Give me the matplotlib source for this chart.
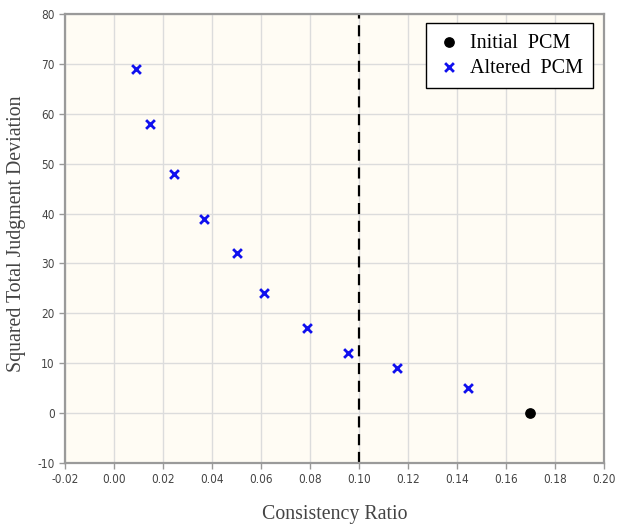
import matplotlib.pyplot as plt

# data
cr_altered = [0.0091, 0.0146, 0.0247, 0.0368, 0.0502, 0.0614, 0.0786, 0.0956, 0.1157, 0.1445]
dev_altered = [69, 58, 48, 39, 32, 24, 17, 12, 9, 5]
cr_initial = [0.17]
dev_initial = [0]
cr_threshold = 0.10

xticks = [-0.02, 0.00, 0.02, 0.04, 0.06, 0.08, 0.10, 0.12, 0.14, 0.16, 0.18, 0.20]
yticks = [-10, 0, 10, 20, 30, 40, 50, 60, 70, 80]

plt.rcParams['axes.unicode_minus'] = False

fig = plt.figure(figsize=(6.17, 5.25), dpi=100)
ax = fig.add_axes([0.1053, 0.1181, 0.8736, 0.8552])
ax.set_facecolor('#fffcf4')

ax.grid(True, color='#dcdcdc', linewidth=1)
ax.set_axisbelow(True)

ax.axvline(cr_threshold, color='black', linestyle=(0, (5, 3)), linewidth=1.6)

ax.scatter(cr_initial, dev_initial, marker='o', s=45, color='black', label='Initial  PCM', zorder=3)
ax.scatter(cr_altered, dev_altered, marker='x', s=40, color='#1010ee', linewidths=2, label='Altered  PCM', zorder=3)

ax.set_xlim(-0.02, 0.20)
ax.set_ylim(-10, 80)
ax.set_xticks(xticks)
ax.set_xticklabels(['%.2f' % v for v in xticks])
ax.set_yticks(yticks)
ax.tick_params(labelsize=8.5, labelcolor='#444444', color='#999999', length=4, width=1)
for lbl in ax.get_xticklabels() + ax.get_yticklabels():
    lbl.set_fontfamily('DejaVu Sans')
    lbl.set_fontstretch('condensed')

for sp in ax.spines.values():
    sp.set_color('#9a9a9a')
    sp.set_linewidth(1.6)

ax.set_xlabel('Consistency Ratio', family='Liberation Serif', fontsize=14.3, color='#444444')
ax.xaxis.set_label_coords(0.5, -0.093)
ax.set_ylabel('Squared Total Judgment Deviation', family='Liberation Serif', fontsize=14.3, color='#444444')
ax.yaxis.set_label_coords(-0.073, 0.51)

leg = ax.legend(loc='upper right', prop={'family': 'Liberation Serif', 'size': 14.5},
                fancybox=False, edgecolor='black', framealpha=1, borderpad=0.5,
                handletextpad=0.35, handlelength=1.3, labelspacing=0.3,
                borderaxespad=0, bbox_to_anchor=(0.979, 0.979))
leg.get_frame().set_linewidth(1)

fig.savefig('out.png', dpi=100)
